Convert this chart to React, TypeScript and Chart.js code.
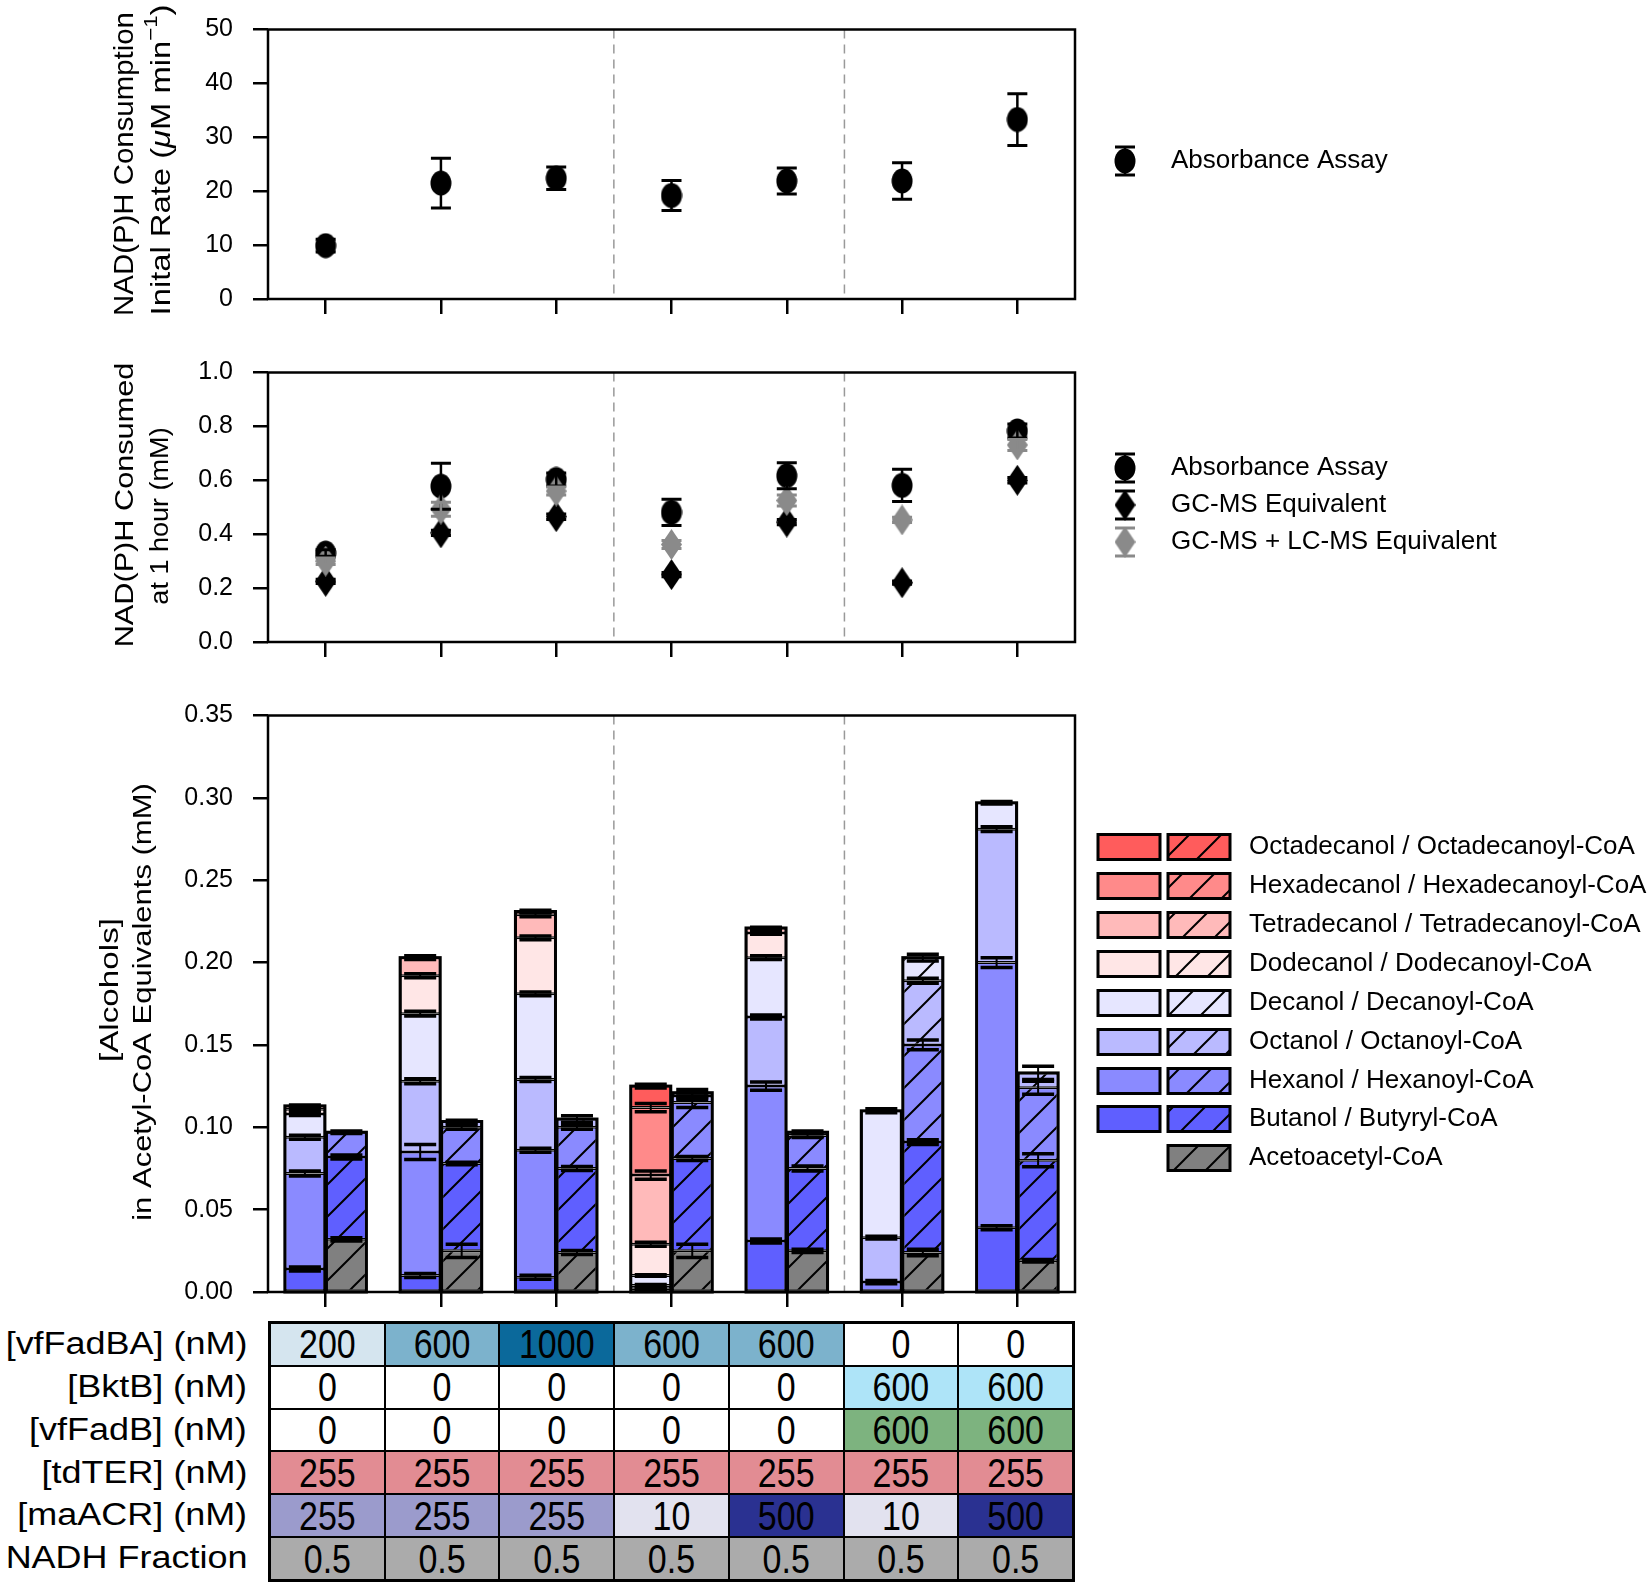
import React, { useEffect, useRef } from 'react';
import { Chart, registerables } from 'chart.js';
Chart.register(...registerables);

const FONT = "'Liberation Sans', Arial, Helvetica, sans-serif";

// ---------- data ----------
const conditions = ['1', '2', '3', '4', '5', '6', '7'];

// Panel A: initial rate (µM/min)
const rateAbs = [9.9, 21.5, 22.4, 19.2, 21.9, 21.9, 33.3];
const rateAbsErr = [1.2, 4.6, 2.1, 2.8, 2.4, 3.4, 4.8];

// Panel B: NAD(P)H consumed at 1 h (mM)
const consAbs = [0.33, 0.578, 0.603, 0.481, 0.617, 0.581, 0.783];
const consAbsErr = [0.012, 0.085, 0.024, 0.049, 0.048, 0.06, 0.026];
const consGC = [0.225, 0.405, 0.465, 0.25, 0.445, 0.22, 0.6];
const consGCErr = [0.008, 0.01, 0.01, 0.008, 0.01, 0.006, 0.01];
const consGCLC = [0.3, 0.493, 0.56, 0.362, 0.525, 0.453, 0.731];
const consGCLCErr = [0.012, 0.026, 0.015, 0.015, 0.02, 0.01, 0.02];

// Panel C: alcohols (solid bars), mM acetyl-CoA equivalents
const alcButanol = [0.014, 0.01, 0.009, 0.001, 0.031, 0, 0.039];
const alcHexanol = [0.058, 0.075, 0.077, 0.001, 0.094, 0.006, 0.161];
const alcOctanol = [0.022, 0.043, 0.043, 0.002, 0.042, 0.027, 0.081];
const alcDecanol = [0.014, 0.041, 0.052, 0.006, 0.036, 0.077, 0.016];
const alcDodecanol = [0.003, 0.023, 0.034, 0.019, 0.015, 0, 0];
const alcTetradecanol = [0.002, 0.011, 0.014, 0.042, 0.003, 0, 0];
const alcHexadecanol = [0, 0, 0.002, 0.041, 0, 0, 0];
const alcOctadecanol = [0, 0, 0, 0.013, 0, 0, 0];

const errButanol = [0.0012, 0.0012, 0.0012, 0.0005, 0.0012, 0, 0.0012];
const errHexanol = [0.0015, 0.0045, 0.0012, 0.0005, 0.0025, 0.001, 0.003];
const errOctanol = [0.0012, 0.0015, 0.0012, 0.0005, 0.0012, 0.0008, 0.0015];
const errDecanol = [0.0008, 0.0015, 0.0012, 0.0005, 0.0012, 0.0012, 0.0008];
const errDodecanol = [0.0005, 0.0012, 0.0012, 0.0012, 0.0008, 0, 0];
const errTetradecanol = [0.0005, 0.0012, 0.0012, 0.0025, 0.0005, 0, 0];
const errHexadecanol = [0, 0, 0.0008, 0.0025, 0, 0, 0];
const errOctadecanol = [0, 0, 0, 0.0012, 0, 0, 0];

// Panel C: acyl-CoAs (hatched bars)
const coaAcetoacetyl = [0.032, 0.025, 0.024, 0.025, 0.025, 0.024, 0.019];
const coaButyryl = [0.05, 0.053, 0.051, 0.056, 0.05, 0.067, 0.061];
const coaHexanoyl = [0.015, 0.022, 0.025, 0.034, 0.02, 0.059, 0.044];
const coaOctanoyl = [0, 0.0035, 0.005, 0.004, 0.002, 0.039, 0.009];
const coaDecanoyl = [0, 0, 0, 0.002, 0, 0.014, 0];
const coaDodecanoyl = [0, 0, 0, 0, 0, 0, 0];
const coaTetradecanoyl = [0, 0, 0, 0, 0, 0, 0];
const coaHexadecanoyl = [0, 0, 0, 0, 0, 0, 0];
const coaOctadecanoyl = [0, 0, 0, 0, 0, 0, 0];

const errAcetoacetyl = [0.001, 0.004, 0.0012, 0.004, 0.001, 0.002, 0.0008];
const errButyryl = [0.0012, 0.0008, 0.0012, 0.0012, 0.0015, 0.0015, 0.004];
const errHexanoyl = [0.0008, 0.0012, 0.0012, 0.003, 0.0012, 0.003, 0.004];
const errOctanoyl = [0, 0.0008, 0.002, 0.002, 0.0008, 0.0015, 0.004];
const errDecanoyl = [0, 0, 0, 0.002, 0, 0.002, 0];
const errZero = [0, 0, 0, 0, 0, 0, 0];

// Table
const rowLabels = ['[vfFadBA] (nM)', '[BktB] (nM)', '[vfFadB] (nM)', '[tdTER] (nM)', '[maACR] (nM)', 'NADH Fraction'];
const vfFadBA = [200, 600, 1000, 600, 600, 0, 0];
const bktB = [0, 0, 0, 0, 0, 600, 600];
const vfFadB = [0, 0, 0, 0, 0, 600, 600];
const tdTER = [255, 255, 255, 255, 255, 255, 255];
const maACR = [255, 255, 255, 10, 500, 10, 500];
const nadhFraction = ['0.5', '0.5', '0.5', '0.5', '0.5', '0.5', '0.5'];

const legendLabels = [
  'Octadecanol / Octadecanoyl-CoA',
  'Hexadecanol / Hexadecanoyl-CoA',
  'Tetradecanol / Tetradecanoyl-CoA',
  'Dodecanol / Dodecanoyl-CoA',
  'Decanol / Decanoyl-CoA',
  'Octanol / Octanoyl-CoA',
  'Hexanol / Hexanoyl-CoA',
  'Butanol / Butyryl-CoA',
  'Acetoacetyl-CoA',
];

// ---------- styles ----------
const C18 = '#ff5c5c';
const C16 = '#ff8a8a';
const C14 = '#ffbaba';
const C12 = '#ffe6e6';
const C10 = '#e6e6ff';
const C8 = '#babaff';
const C6 = '#8a8aff';
const C4 = '#5f5fff';
const CACAC = '#808080';
const GRAY = '#8a8a8a';

function cellColor(row: number, v: number): string {
  if (row === 0) return v === 200 ? '#d5e5ef' : v === 600 ? '#7cb2cc' : v === 1000 ? '#0b699b' : '#ffffff';
  if (row === 1) return v === 600 ? '#aee4f8' : '#ffffff';
  if (row === 2) return v === 600 ? '#7db37f' : '#ffffff';
  if (row === 3) return '#e28c93';
  if (row === 4) return v === 10 ? '#e2e2ef' : v === 500 ? '#2a3191' : '#9b9bcc';
  return '#ababab';
}

// ---------- helpers ----------
function makeHatch(color: string): CanvasPattern {
  const s = 32;
  const c = document.createElement('canvas');
  c.width = s;
  c.height = s;
  const g = c.getContext('2d')!;
  g.fillStyle = color;
  g.fillRect(0, 0, s, s);
  g.strokeStyle = '#000';
  g.lineWidth = 2;
  g.beginPath();
  g.moveTo(0, s);
  g.lineTo(s, 0);
  g.moveTo(-s / 2, s / 2);
  g.lineTo(s / 2, -s / 2);
  g.moveTo(s / 2, s * 1.5);
  g.lineTo(s * 1.5, s / 2);
  g.stroke();
  return g.createPattern(c, 'repeat')!;
}

function makeEllipse(color: string, w = 22, h = 26): HTMLCanvasElement {
  const c = document.createElement('canvas');
  c.width = w;
  c.height = h;
  const g = c.getContext('2d')!;
  g.fillStyle = color;
  g.beginPath();
  g.ellipse(w / 2, h / 2, w / 2 - 0.5, h / 2 - 0.5, 0, 0, Math.PI * 2);
  g.fill();
  return c;
}

function makeDiamond(color: string, w = 21, h = 31): HTMLCanvasElement {
  const c = document.createElement('canvas');
  c.width = w;
  c.height = h;
  const g = c.getContext('2d')!;
  g.fillStyle = color;
  g.beginPath();
  g.moveTo(w / 2, 0);
  g.lineTo(w, h / 2);
  g.lineTo(w / 2, h);
  g.lineTo(0, h / 2);
  g.closePath();
  g.fill();
  return c;
}

type Seg = { text: string; size: number; italic?: boolean; dy?: number };

function drawRotatedRich(ctx: CanvasRenderingContext2D, segs: Seg[], cx: number, cy: number, stretch: number) {
  ctx.save();
  ctx.translate(cx, cy);
  ctx.rotate(-Math.PI / 2);
  ctx.scale(stretch, 1);
  ctx.fillStyle = '#000';
  ctx.textBaseline = 'middle';
  ctx.textAlign = 'left';
  const fontOf = (s: Seg) => `${s.italic ? 'italic ' : ''}${s.size}px ${FONT}`;
  let total = 0;
  const widths = segs.map((s) => {
    ctx.font = fontOf(s);
    const w = ctx.measureText(s.text).width;
    total += w;
    return w;
  });
  let x = -total / 2;
  segs.forEach((s, i) => {
    ctx.font = fontOf(s);
    ctx.fillText(s.text, x, s.dy || 0);
    x += widths[i];
  });
  ctx.restore();
}

function drawErr(ctx: CanvasRenderingContext2D, x: number, y1: number, y2: number, half: number, color: string, lw: number, capW?: number) {
  ctx.save();
  ctx.strokeStyle = color;
  ctx.lineWidth = lw;
  ctx.beginPath();
  ctx.moveTo(x, y1);
  ctx.lineTo(x, y2);
  ctx.stroke();
  ctx.lineWidth = capW || lw;
  ctx.beginPath();
  ctx.moveTo(x - half, y1);
  ctx.lineTo(x + half, y1);
  ctx.moveTo(x - half, y2);
  ctx.lineTo(x + half, y2);
  ctx.stroke();
  ctx.restore();
}

function drawLegendText(ctx: CanvasRenderingContext2D, text: string, x: number, y: number, size = 26) {
  ctx.save();
  ctx.fillStyle = '#000';
  ctx.font = `${size}px ${FONT}`;
  ctx.textAlign = 'left';
  ctx.textBaseline = 'middle';
  ctx.fillText(text, x, y);
  ctx.restore();
}

function drawFrameAndDividers(chart: any, frame: boolean) {
  const ctx = chart.ctx as CanvasRenderingContext2D;
  const a = chart.chartArea;
  const xs = chart.scales.x;
  if (!frame) {
    ctx.save();
    ctx.strokeStyle = '#999';
    ctx.lineWidth = 1.5;
    ctx.setLineDash([9, 6]);
    [[2, 3], [4, 5]].forEach(([i, j]) => {
      const x = (xs.getPixelForValue(i) + xs.getPixelForValue(j)) / 2;
      ctx.beginPath();
      ctx.moveTo(x, a.top);
      ctx.lineTo(x, a.bottom);
      ctx.stroke();
    });
    ctx.restore();
  } else {
    ctx.save();
    ctx.strokeStyle = '#000';
    ctx.lineWidth = 2.5;
    ctx.strokeRect(a.left, a.top, a.right - a.left, a.bottom - a.top);
    ctx.restore();
  }
}

function axisX() {
  return {
    type: 'category' as const,
    offset: true,
    grid: { offset: false, drawOnChartArea: false, drawTicks: true, tickLength: 15, tickColor: '#000', tickWidth: 2.5, lineWidth: 2.5, color: '#000' },
    border: { display: false },
    ticks: { display: false },
    afterFit: (s: any) => {
      s.height = 20;
      s.paddingLeft = 0;
      s.paddingRight = 0;
    },
  };
}

function axisY(min: number, max: number, step: number, dec: number) {
  return {
    min,
    max,
    ticks: {
      stepSize: step,
      color: '#000',
      font: { family: FONT, size: 25 },
      padding: 20,
      callback: (v: any) => Number(v).toFixed(dec),
    },
    grid: { drawOnChartArea: false, drawTicks: true, tickLength: 15, tickColor: '#000', tickWidth: 2.5, lineWidth: 2.5, color: '#000' },
    border: { display: false },
    afterFit: (s: any) => {
      s.width = 268;
      s.paddingTop = 0;
      s.paddingBottom = 0;
    },
  };
}

const baseOpts = {
  responsive: false,
  animation: false as const,
  devicePixelRatio: 1,
  events: [] as any[],
};

// ---------- chart configs ----------
function makeTop(): any {
  const dot = makeEllipse('#000');
  const plugin = {
    id: 'decorTop',
    beforeDatasetsDraw(chart: any) {
      drawFrameAndDividers(chart, false);
    },
    afterDatasetsDraw(chart: any) {
      const ctx = chart.ctx;
      const xs = chart.scales.x;
      const ys = chart.scales.y;
      rateAbs.forEach((v, i) => {
        const x = xs.getPixelForValue(i);
        drawErr(ctx, x, ys.getPixelForValue(v + rateAbsErr[i]), ys.getPixelForValue(v - rateAbsErr[i]), 10, '#000', 2.5, 3);
      });
    },
    afterDraw(chart: any) {
      const ctx = chart.ctx as CanvasRenderingContext2D;
      drawFrameAndDividers(chart, true);
      drawRotatedRich(ctx, [{ text: 'NAD(P)H Consumption', size: 28 }], 125, 164, 1.05);
      drawRotatedRich(
        ctx,
        [
          { text: 'Inital Rate (', size: 28 },
          { text: 'μ', size: 28, italic: true },
          { text: 'M min', size: 28 },
          { text: '−1', size: 19, dy: -10 },
          { text: ')', size: 28 },
        ],
        162,
        160,
        1.17
      );
      // legend
      drawErr(ctx, 1125, 147, 175, 10, '#000', 2.5, 3);
      ctx.drawImage(dot, 1125 - dot.width / 2, 161 - dot.height / 2);
      drawLegendText(ctx, 'Absorbance Assay', 1171, 161);
    },
  };
  return {
    type: 'line',
    data: {
      labels: conditions,
      datasets: [{ label: 'Absorbance Assay', data: rateAbs, showLine: false, pointStyle: dot, pointRadius: 11 }],
    },
    options: {
      ...baseOpts,
      layout: { padding: { left: 0, right: 575, top: 29.5, bottom: 0 } },
      plugins: { legend: { display: false }, tooltip: { enabled: false } },
      scales: { x: axisX(), y: axisY(0, 50, 10, 0) },
    },
    plugins: [plugin],
  };
}

function makeMid(): any {
  const dot = makeEllipse('#000');
  const dia = makeDiamond('#000');
  const gdia = makeDiamond(GRAY);
  const plugin = {
    id: 'decorMid',
    beforeDatasetsDraw(chart: any) {
      drawFrameAndDividers(chart, false);
    },
    afterDatasetsDraw(chart: any) {
      const ctx = chart.ctx;
      const xs = chart.scales.x;
      const ys = chart.scales.y;
      const series: [number[], number[], string][] = [
        [consAbs, consAbsErr, '#000'],
        [consGC, consGCErr, '#000'],
        [consGCLC, consGCLCErr, GRAY],
      ];
      series.forEach(([vals, errs, col]) => {
        vals.forEach((v, i) => {
          const x = xs.getPixelForValue(i);
          drawErr(ctx, x, ys.getPixelForValue(v + errs[i]), ys.getPixelForValue(v - errs[i]), 10, col, 2.5, 3);
        });
      });
    },
    afterDraw(chart: any) {
      const ctx = chart.ctx as CanvasRenderingContext2D;
      drawFrameAndDividers(chart, true);
      drawRotatedRich(ctx, [{ text: 'NAD(P)H Consumed', size: 26 }], 126, 165, 1.18);
      drawRotatedRich(ctx, [{ text: 'at 1 hour (mM)', size: 26 }], 161, 176, 1.04);
      const rows: [number, HTMLCanvasElement, string, string][] = [
        [128, dot, '#000', 'Absorbance Assay'],
        [165, dia, '#000', 'GC-MS Equivalent'],
        [202, gdia, GRAY, 'GC-MS + LC-MS Equivalent'],
      ];
      rows.forEach(([y, img, col, label]) => {
        drawErr(ctx, 1125, y - 14, y + 14, 10, col, 2.5, 3);
        ctx.drawImage(img, 1125 - img.width / 2, y - img.height / 2);
        drawLegendText(ctx, label, 1171, y);
      });
    },
  };
  return {
    type: 'line',
    data: {
      labels: conditions,
      datasets: [
        { label: 'GC-MS + LC-MS Equivalent', data: consGCLC, showLine: false, pointStyle: gdia, order: 0 },
        { label: 'GC-MS Equivalent', data: consGC, showLine: false, pointStyle: dia, order: 1 },
        { label: 'Absorbance Assay', data: consAbs, showLine: false, pointStyle: dot, order: 2 },
      ],
    },
    options: {
      ...baseOpts,
      layout: { padding: { left: 0, right: 575, top: 32.5, bottom: 0 } },
      plugins: { legend: { display: false }, tooltip: { enabled: false } },
      scales: { x: axisX(), y: axisY(0, 1, 0.2, 1) },
    },
    plugins: [plugin],
  };
}

function makeBottom(): any {
  const alc: [number[], number[], string][] = [
    [alcButanol, errButanol, C4],
    [alcHexanol, errHexanol, C6],
    [alcOctanol, errOctanol, C8],
    [alcDecanol, errDecanol, C10],
    [alcDodecanol, errDodecanol, C12],
    [alcTetradecanol, errTetradecanol, C14],
    [alcHexadecanol, errHexadecanol, C16],
    [alcOctadecanol, errOctadecanol, C18],
  ];
  const coa: [number[], number[], string][] = [
    [coaAcetoacetyl, errAcetoacetyl, CACAC],
    [coaButyryl, errButyryl, C4],
    [coaHexanoyl, errHexanoyl, C6],
    [coaOctanoyl, errOctanoyl, C8],
    [coaDecanoyl, errDecanoyl, C10],
    [coaDodecanoyl, errZero, C12],
    [coaTetradecanoyl, errZero, C14],
    [coaHexadecanoyl, errZero, C16],
    [coaOctadecanoyl, errZero, C18],
  ];
  const alcNames = ['Butanol', 'Hexanol', 'Octanol', 'Decanol', 'Dodecanol', 'Tetradecanol', 'Hexadecanol', 'Octadecanol'];
  const coaNames = ['Acetoacetyl-CoA', 'Butyryl-CoA', 'Hexanoyl-CoA', 'Octanoyl-CoA', 'Decanoyl-CoA', 'Dodecanoyl-CoA', 'Tetradecanoyl-CoA', 'Hexadecanoyl-CoA', 'Octadecanoyl-CoA'];
  const errList: number[][] = [];
  const datasets: any[] = [];
  alc.forEach(([vals, errs, col], k) => {
    errList.push(errs);
    datasets.push({
      label: alcNames[k],
      stack: 'alcohol',
      data: vals.map((v) => (v > 0 ? v : null)),
      backgroundColor: col,
      borderColor: '#000',
      borderWidth: 1.5,
      borderSkipped: false,
    });
  });
  coa.forEach(([vals, errs, col], k) => {
    errList.push(errs);
    datasets.push({
      label: coaNames[k],
      stack: 'coa',
      data: vals.map((v) => (v > 0 ? v : null)),
      backgroundColor: makeHatch(col),
      borderColor: '#000',
      borderWidth: 1.5,
      borderSkipped: false,
    });
  });
  const legendSolid = [C18, C16, C14, C12, C10, C8, C6, C4];
  const legendHatch = [C18, C16, C14, C12, C10, C8, C6, C4, CACAC].map((c) => makeHatch(c));
  const legendY = [167, 206, 245, 284, 323, 362, 401, 439, 478];

  const plugin = {
    id: 'decorBottom',
    beforeDatasetsDraw(chart: any) {
      drawFrameAndDividers(chart, false);
    },
    afterDatasetsDraw(chart: any) {
      const ctx = chart.ctx as CanvasRenderingContext2D;
      const ys = chart.scales.y;
      const base = ys.getPixelForValue(0);
      const ppu = base - ys.getPixelForValue(1);
      const outlines: Record<string, { x: number; w: number; top: number }> = {};
      const caps: { x: number; y: number; e: number; w: number }[] = [];
      chart.data.datasets.forEach((ds: any, i: number) => {
        const meta = chart.getDatasetMeta(i);
        meta.data.forEach((el: any, j: number) => {
          const v = ds.data[j];
          if (v == null) return;
          const p = el.getProps(['x', 'y', 'width'], true);
          const key = ds.stack + '_' + j;
          if (!outlines[key] || p.y < outlines[key].top) outlines[key] = { x: p.x, w: p.width, top: p.y };
          const e = errList[i][j] * ppu;
          if (e > 0) caps.push({ x: p.x, y: p.y, e, w: p.width });
        });
      });
      ctx.save();
      ctx.strokeStyle = '#000';
      ctx.lineWidth = 3;
      Object.values(outlines).forEach((o) => {
        ctx.strokeRect(o.x - o.w / 2, o.top, o.w, base - o.top);
      });
      ctx.restore();
      caps.forEach((c) => {
        drawErr(ctx, c.x, c.y - c.e, c.y + c.e, c.w * 0.4, '#000', 2, 3.5);
      });
    },
    afterDraw(chart: any) {
      const ctx = chart.ctx as CanvasRenderingContext2D;
      drawFrameAndDividers(chart, true);
      drawRotatedRich(ctx, [{ text: '[Alcohols]', size: 25 }], 111, 310, 1.33);
      drawRotatedRich(ctx, [{ text: 'in Acetyl-CoA Equivalents (mM)', size: 25 }], 144, 322, 1.24);
      legendY.forEach((y, k) => {
        const h = 25;
        ctx.save();
        ctx.strokeStyle = '#000';
        ctx.lineWidth = 3;
        if (k < 8) {
          ctx.fillStyle = legendSolid[k];
          ctx.fillRect(1098, y - h / 2, 62, h);
          ctx.strokeRect(1098, y - h / 2, 62, h);
        }
        ctx.fillStyle = legendHatch[k];
        ctx.fillRect(1168, y - h / 2, 62, h);
        ctx.strokeRect(1168, y - h / 2, 62, h);
        ctx.restore();
        drawLegendText(ctx, legendLabels[k], 1249, y);
      });
    },
  };

  return {
    type: 'bar',
    data: { labels: conditions, datasets },
    options: {
      ...baseOpts,
      categoryPercentage: 0.72,
      barPercentage: 0.965,
      layout: { padding: { left: 0, right: 575, top: 35.5, bottom: 0 } },
      plugins: { legend: { display: false }, tooltip: { enabled: false } },
      scales: {
        x: { ...axisX(), stacked: true },
        y: { ...axisY(0, 0.35, 0.05, 2), stacked: true },
      },
    },
    plugins: [plugin],
  };
}

// ---------- components ----------
function ChartCanvas({ top, height, make }: { top: number; height: number; make: () => any }) {
  const ref = useRef<HTMLCanvasElement>(null);
  useEffect(() => {
    const chart = new Chart(ref.current!, make());
    return () => chart.destroy();
  }, []);
  return (
    <canvas
      ref={ref}
      width={1650}
      height={height}
      style={{ position: 'absolute', left: 0, top, width: 1650, height, display: 'block' }}
    />
  );
}

function Table() {
  const rows: (number | string)[][] = [vfFadBA, bktB, vfFadB, tdTER, maACR, nadhFraction];
  const tableTop = 1321;
  const tableH = 261;
  const rowH = (tableH - 6 - 10) / 6;
  return (
    <>
      {rowLabels.map((lab, i) => (
        <div
          key={lab}
          style={{
            position: 'absolute',
            left: 0,
            width: 247,
            top: tableTop + 3 + i * (rowH + 2),
            height: rowH,
            lineHeight: `${rowH}px`,
            textAlign: 'right',
            fontFamily: FONT,
            fontSize: 31,
            color: '#000',
            whiteSpace: 'nowrap',
          }}
        >
          <span style={{ display: 'inline-block', transform: 'scaleX(1.16)', transformOrigin: 'right center' }}>{lab}</span>
        </div>
      ))}
      <div
        style={{
          position: 'absolute',
          left: 268,
          top: tableTop,
          width: 807,
          height: tableH,
          boxSizing: 'border-box',
          border: '3px solid #000',
          background: '#000',
          display: 'grid',
          gridTemplateColumns: 'repeat(7, 1fr)',
          gridTemplateRows: 'repeat(6, 1fr)',
          gap: 2,
        }}
      >
        {rows.map((r, i) =>
          r.map((v, j) => (
            <div
              key={`${i}-${j}`}
              style={{
                background: cellColor(i, Number(v)),
                display: 'flex',
                alignItems: 'center',
                justifyContent: 'center',
                fontFamily: FONT,
                fontSize: 34,
                color: '#000',
                lineHeight: 1,
              }}
            >
              <span style={{ display: 'inline-block', transform: 'scaleY(1.18)' }}>{String(v)}</span>
            </div>
          ))
        )}
      </div>
    </>
  );
}

export default function App() {
  return (
    <div style={{ position: 'absolute', left: 0, top: 0, width: 1650, height: 1589, background: '#fff', overflow: 'hidden' }}>
      <ChartCanvas top={0} height={319} make={makeTop} />
      <ChartCanvas top={340} height={322} make={makeMid} />
      <ChartCanvas top={680} height={632} make={makeBottom} />
      <Table />
    </div>
  );
}
